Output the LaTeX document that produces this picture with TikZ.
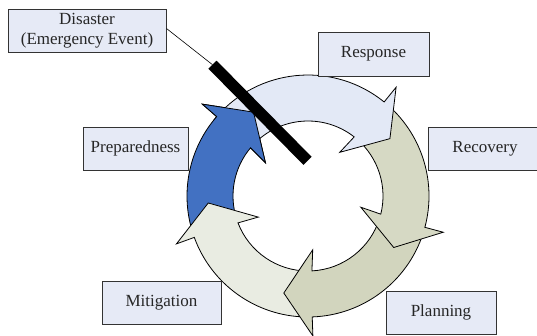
\documentclass[tikz,border=0pt]{standalone}
\usepackage{fontspec}
\setmainfont{Liberation Serif}
\usetikzlibrary{positioning}
\definecolor{boxfill}{RGB}{230,234,246}
\definecolor{respfill}{RGB}{227,233,246}
\definecolor{recofill}{RGB}{214,217,196}
\definecolor{planfill}{RGB}{210,213,190}
\definecolor{mitifill}{RGB}{233,236,226}
\definecolor{prepfill}{RGB}{66,113,194}
\def\Rout{121}
\def\Rin{75}
\def\cyclearrow#1#2#3{
    % #1 tail angle, #2 head angle (clockwise), #3 fill
    \draw[fill=#3, line width=0.8pt] (#1-3:\Rout) arc[start angle=#1-3, end angle=#2, radius=\Rout]
        -- (#2:140) -- (#2-16:100) -- (#2+3:54) -- (#2+1:\Rin)
        arc[start angle=#2+1, end angle=#1-2, radius=\Rin] -- cycle;
}
\def\cyclehead#1#2{
    %Head only, put back on top of the next tail
    \fill[#2] (#1+2:\Rout) arc[start angle=#1+2, end angle=#1, radius=\Rout]
        -- (#1:140) -- (#1-16:100) -- (#1+3:54) -- (#1+1:\Rin)
        arc[start angle=#1+1, end angle=#1+2, radius=\Rin] -- cycle;
    \draw[line width=0.8pt] (#1+2:\Rout) arc[start angle=#1+2, end angle=#1, radius=\Rout]
        -- (#1:140) -- (#1-16:100) -- (#1+3:54) -- (#1+1:\Rin)
        arc[start angle=#1+1, end angle=#1+2, radius=\Rin];
}
\tikzset{
    phase/.style={draw=black!80, line width=1pt, fill=boxfill, minimum height=43pt,
        inner sep=0pt, align=center, text=black!85, font=\fontsize{17}{20}\selectfont}
}

\begin{document}
\begin{tikzpicture}[x=1pt, y=1pt]
    \useasboundingbox (0,0) rectangle (537,-335);

    % Cycle of arrows
    \begin{scope}[shift={(308,-196)}]
        \cyclearrow{200}{139}{prepfill} % Preparedness
        \cyclearrow{272}{200}{mitifill} % Mitigation
        \cyclearrow{-15}{-88}{planfill} % Planning
        \cyclearrow{51}{-15}{recofill} % Recovery
        \cyclearrow{139}{51}{respfill} % Response
        \cyclehead{139}{prepfill}
    \end{scope}

    % Phase boxes
    \node[phase, minimum width=158pt] (disaster) at (87,-30.5) {Disaster\\(Emergency Event)};
    \node[phase, minimum width=111pt, minimum height=44pt] (response) at (373.5,-54) {Response};
    \node[phase, minimum width=114pt] (recovery) at (485,-148.5) {Recovery};
    \node[phase, minimum width=110pt] (planning) at (441,-312.5) {Planning};
    \node[phase, minimum width=119pt] (mitigation) at (161.5,-302.5) {Mitigation};
    \node[phase, minimum width=105pt] (preparedness) at (135.5,-148.5) {Preparedness};

    % Disaster bar
    \coordinate (bartop) at (212.5,-64.7);
    \coordinate (barend) at (307.5,-160.8);
    \draw[line width=0.6pt] ([yshift=2pt]disaster.east) -- (bartop);
    \draw[line width=11.5pt] (bartop) -- (barend);
\end{tikzpicture}
\end{document}
